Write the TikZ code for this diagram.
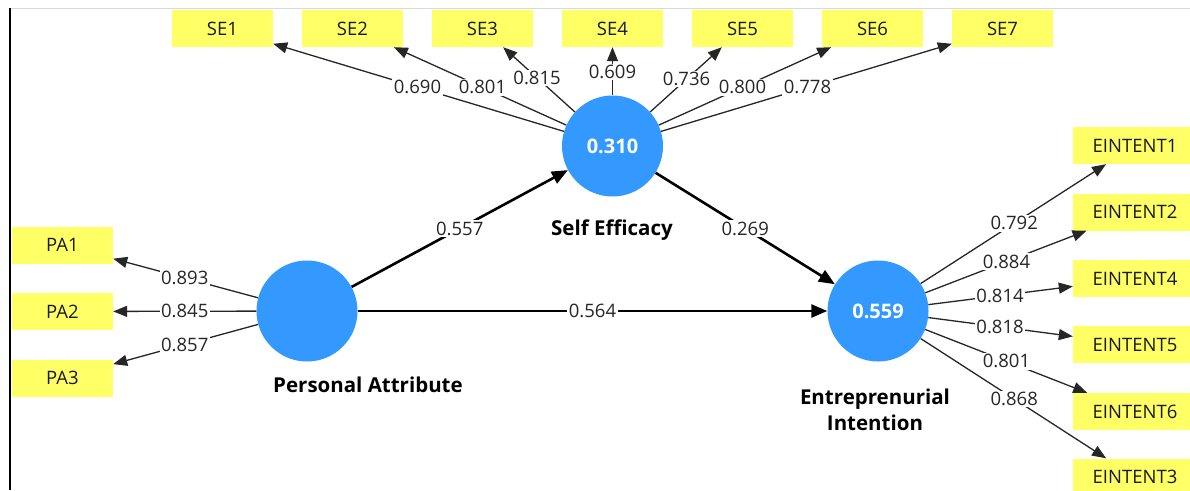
\documentclass[tikz,border=0pt]{standalone}
\usepackage{fontspec}
\setmainfont{Open Sans}
\usetikzlibrary{arrows.meta,calc}
\definecolor{indyellow}{HTML}{FFFF66}
\definecolor{latblue}{HTML}{3399FF}
\begin{document}
\begin{tikzpicture}[x=1pt,y=-1pt,
  indbox/.style={rectangle, fill=indyellow, minimum width=101pt, minimum height=37pt, inner sep=0pt, font=\fontsize{18.5}{21}\selectfont, text=black!90},
  eibox/.style={indbox, minimum width=124pt},
  latent/.style={circle, fill=latblue, minimum size=101pt, inner sep=0pt, font=\bfseries\fontsize{20}{22}\selectfont, text=white},
  latname/.style={font=\bfseries\fontsize{20.5}{26}\selectfont, align=center, text=black, inner sep=0pt},
  ldedge/.style={draw=black!85, line width=1.3pt, -{Triangle[length=14pt,width=11pt]}},
  structedge/.style={draw=black, line width=2.6pt, -{Triangle[length=16pt,width=13pt]}},
  coef/.style={fill=white, inner sep=1.5pt, font=\fontsize{18.5}{21}\selectfont, text=black!85}
]
\useasboundingbox (0,0) rectangle (1190,490);
\fill[white] (0,0) rectangle (1190,490);
\draw[black!15, line width=1pt] (10,8) -- (1190,8);
\draw[black, line width=1.3pt] (10,8) -- (10,490);

% indicators
\node[indbox] (se1) at (222.5,28.5) {SE1};
\node[indbox] (se2) at (352.5,28.5) {SE2};
\node[indbox] (se3) at (482.5,28.5) {SE3};
\node[indbox] (se4) at (612.5,28.5) {SE4};
\node[indbox] (se5) at (742.5,28.5) {SE5};
\node[indbox] (se6) at (872.5,28.5) {SE6};
\node[indbox] (se7) at (1002.5,28.5) {SE7};
\node[indbox] (pa1) at (62.5,245) {PA1};
\node[indbox] (pa2) at (62.5,311.5) {PA2};
\node[indbox] (pa3) at (62.5,378) {PA3};
\node[eibox] (e1) at (1135,145.5) {EINTENT1};
\node[eibox] (e2) at (1135,212) {EINTENT2};
\node[eibox] (e4) at (1135,278.5) {EINTENT4};
\node[eibox] (e5) at (1135,344.5) {EINTENT5};
\node[eibox] (e6) at (1135,411.5) {EINTENT6};
\node[eibox] (e3) at (1135,477) {EINTENT3};

% latent variables
\node[latent] (se) at (612.5,146) {0.310};
\node[latent] (pa) at (307,311) {};
\node[latent] (ei) at (878,311) {0.559};
\node[latname] (sename) at (612,230) {Self Efficacy};
\node[latname] (paname) at (368,385) {Personal Attribute};
\node[latname] (einame) at (875,410) {Entreprenurial\\Intention};

% edges
\foreach \t in {se1,se2,se3,se4,se5,se6,se7} \draw[ldedge] (se) -- (\t);
\foreach \t in {pa1,pa2,pa3} \draw[ldedge] (pa) -- (\t);
\foreach \t in {e1,e2,e4,e5,e6,e3} \draw[ldedge] (ei) -- (\t);
\draw[structedge] (pa) -- (se);
\draw[structedge] (pa) -- (ei);
\draw[structedge] (se) -- (ei);

% coefficients
\node[coef] at ($(se)!0.5!(se1)$) {0.690};
\node[coef] at ($(se)!0.5!(se2)$) {0.801};
\node[coef] at ($(se)!0.58!(se3)$) {0.815};
\node[coef] at ($(se)!0.63!(se4)$) {0.609};
\node[coef] at ($(se)!0.57!(se5)$) {0.736};
\node[coef] at ($(se)!0.5!(se6)$) {0.800};
\node[coef] at ($(se)!0.5!(se7)$) {0.778};
\node[coef] at ($(pa)!0.5!(pa1)$) {0.893};
\node[coef] at ($(pa)!0.5!(pa2)$) {0.845};
\node[coef] at ($(pa)!0.5!(pa3)$) {0.857};
\node[coef] at ($(ei)!0.53!(e1)$) {0.792};
\node[coef] at ($(ei)!0.5!(e2)$) {0.884};
\node[coef] at ($(ei)!0.475!(e4)$) {0.814};
\node[coef] at ($(ei)!0.475!(e5)$) {0.818};
\node[coef] at ($(ei)!0.5!(e6)$) {0.801};
\node[coef] at ($(ei)!0.53!(e3)$) {0.868};
\node[coef] at ($(pa)!0.5!(se)$) {0.557};
\node[coef] at ($(pa)!0.5!(ei)$) {0.564};
\node[coef] at ($(se)!0.5!(ei)$) {0.269};
\end{tikzpicture}
\end{document}
